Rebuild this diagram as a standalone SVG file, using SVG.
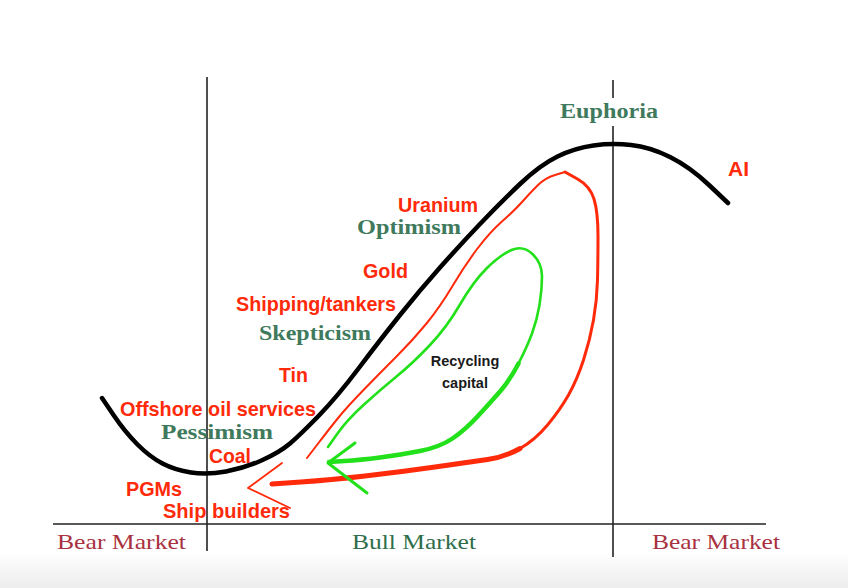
<svg xmlns="http://www.w3.org/2000/svg" width="848" height="588" viewBox="0 0 848 588">
<defs>
<linearGradient id="bg" x1="0" y1="0" x2="0" y2="1">
<stop offset="0" stop-color="#ffffff"/>
<stop offset="1" stop-color="#ededed"/>
</linearGradient>
</defs>
<style>
.red{font-family:"Liberation Sans",Arial,sans-serif;font-weight:bold;fill:#ff2a0a;font-size:21px}
.grn{font-family:"Liberation Serif","Times New Roman",serif;font-weight:bold;fill:#3f7a5d;font-size:20px}
.bear{font-family:"Liberation Serif","Times New Roman",serif;fill:#a8323f;font-size:22px}
.bull{font-family:"Liberation Serif","Times New Roman",serif;fill:#2f6e4c;font-size:22px}
.blk{font-family:"Liberation Sans",Arial,sans-serif;font-weight:bold;fill:#1a1a1a;font-size:14.5px}
.axis{stroke:#222;stroke-width:1.6;fill:none}
.r{fill:none;stroke:#ff2a0a;stroke-linecap:round;stroke-linejoin:round}
.g{fill:none;stroke:#22e01a;stroke-linecap:round;stroke-linejoin:round}
</style>
<rect x="0" y="0" width="848" height="588" fill="#fff"/>
<rect x="0" y="552" width="848" height="36" fill="url(#bg)"/>

<g id="axes">
<line class="axis" x1="53" y1="524" x2="766" y2="524"/>
<line class="axis" x1="207" y1="77" x2="207" y2="551"/>
<line class="axis" x1="613" y1="80" x2="613" y2="98"/>
<line class="axis" x1="613" y1="126" x2="613" y2="557"/>
</g>

<g id="connectors">
<path id="cycle-curve" d="M102,398 L113.5,415 Q125,432 137.5,444.5 Q150,457 162.5,463.5 Q175,470 191,472.5 Q207,475 226,471.5 Q245,468 262.5,460 Q280,452 290,443.5 Q300,435 318.5,416 Q337,397 358.5,368.5 Q380,340 400,315 Q420,290 440,267.5 Q460,245 480,224 Q500,203 520,184 Q540,165 557.5,156.5 Q575,148 593.5,145.5 Q612,143 631,145 Q650,147 670,157 Q690,167 709,185 L728,203" fill="none" stroke="#000" stroke-width="4.5" stroke-linecap="round" stroke-linejoin="round"/>
<path id="red-left" class="r" stroke-width="2" d="M307,458 L318.5,443 Q330,428 338.5,417.5 Q347,407 363.5,390 Q380,373 396.5,356.5 Q413,340 426.5,323.5 Q440,307 452.5,286 Q465,265 477.5,248.5 Q490,232 502.5,221 Q515,210 522.5,201.5 Q530,193 537.5,185.5 Q545,178 555,175 L565,172"/>
<path id="red-right" class="r" stroke-width="3" d="M565,172 L577.5,179 Q590,186 594,199 Q598,212 598,236 Q598,260 597.5,280 Q597,300 593.5,320 Q590,340 583.5,360 Q577,380 568.5,395 Q560,410 547.5,425 Q535,440 520,448.5"/>
<path id="red-bottom" class="r" stroke-width="5" d="M520,448.5 Q505,457 487.5,459.5 Q470,462 435,467 Q400,472 365,476 Q330,480 301,482 L272,484"/>
<path id="red-arrow" class="r" stroke-width="1.8" d="M282,463 L248,488 L290,508"/>
<path id="green-left" class="g" stroke-width="2.6" d="M328,447 L337.5,433.5 Q347,420 363.5,405 Q380,390 396.5,376.5 Q413,363 430,345 Q447,327 460,304.5 Q473,282 486.5,268.5 Q500,255 511.5,250 Q523,245 532.5,254 Q542,263 542,276.5 Q542,290 539.5,305 Q537,320 532,333.5 Q527,347 518.5,363.5"/>
<path id="green-bottom" class="g" stroke-width="4.5" d="M518.5,363.5 Q510,380 500,391.5 Q490,403 477.5,416.5 Q465,430 452.5,438.5 Q440,447 420,451 Q400,455 380,457.5 Q360,460 344.5,461 L329,462"/>
<path id="green-arrow" class="g" stroke-width="3" d="M355,443 L328,463 L367,493"/>
</g>

<g id="euphoria"><text class="grn" x="560" y="118" textLength="98" lengthAdjust="spacingAndGlyphs">Euphoria</text></g>
<g id="ai"><text class="red" x="728" y="176">AI</text></g>
<g id="uranium"><text class="red" x="398" y="212" textLength="80" lengthAdjust="spacingAndGlyphs">Uranium</text></g>
<g id="optimism"><text class="grn" x="357" y="234" textLength="104" lengthAdjust="spacingAndGlyphs">Optimism</text></g>
<g id="gold"><text class="red" x="363" y="278" textLength="45" lengthAdjust="spacingAndGlyphs">Gold</text></g>
<g id="shipping"><text class="red" x="236" y="311" textLength="160" lengthAdjust="spacingAndGlyphs">Shipping/tankers</text></g>
<g id="skepticism"><text class="grn" x="259" y="340" textLength="112" lengthAdjust="spacingAndGlyphs">Skepticism</text></g>
<g id="tin"><text class="red" x="279" y="382" textLength="29" lengthAdjust="spacingAndGlyphs">Tin</text></g>
<g id="recycling">
<text class="blk" x="465" y="366" text-anchor="middle">Recycling</text>
<text class="blk" x="465" y="388" text-anchor="middle">capital</text>
</g>
<g id="offshore"><text class="red" x="120" y="416" textLength="196" lengthAdjust="spacingAndGlyphs">Offshore oil services</text></g>
<g id="pessimism"><text class="grn" x="161" y="439" textLength="112" lengthAdjust="spacingAndGlyphs">Pessimism</text></g>
<g id="coal"><text class="red" x="209" y="463" textLength="42" lengthAdjust="spacingAndGlyphs">Coal</text></g>
<g id="pgms"><text class="red" x="126" y="496" textLength="56" lengthAdjust="spacingAndGlyphs">PGMs</text></g>
<g id="shipbuilders"><text class="red" x="163" y="518" textLength="127" lengthAdjust="spacingAndGlyphs">Ship builders</text></g>
<g id="bear-left"><text class="bear" x="57" y="549" textLength="129" lengthAdjust="spacingAndGlyphs">Bear Market</text></g>
<g id="bull"><text class="bull" x="352" y="549" textLength="124" lengthAdjust="spacingAndGlyphs">Bull Market</text></g>
<g id="bear-right"><text class="bear" x="652" y="549" textLength="128" lengthAdjust="spacingAndGlyphs">Bear Market</text></g>
</svg>
